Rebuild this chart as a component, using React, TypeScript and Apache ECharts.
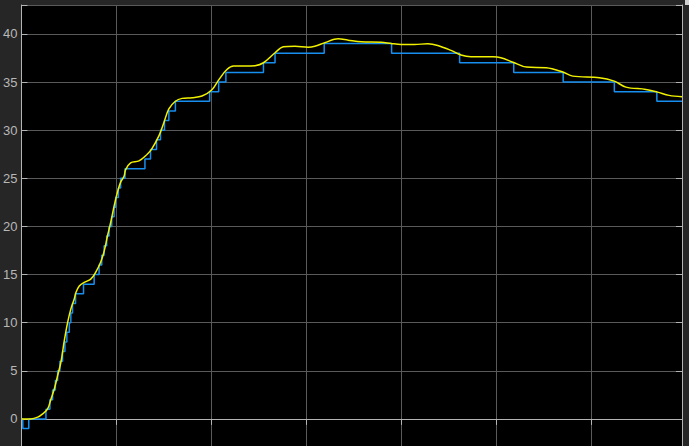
import React, { useEffect, useRef } from "react";
import * as echarts from "echarts";

// Y axis ticks (labels every 5)
const yTickStep = 5;
const yMin = -5;
const yMax = 43;
const xMin = 0;
const xMax = 6.96;
const xTickStep = 1;

// Smooth (yellow) signal: time, value
const yellowT = [
  0, 0.098, 0.171, 0.223, 0.276, 0.311, 0.346, 0.381, 0.416, 0.451, 0.486, 0.52, 0.556, 0.573,
  0.609, 0.661, 0.73, 0.783, 0.835, 0.871, 0.906, 0.94, 0.976, 1.01, 1.045, 1.081, 1.098, 1.15,
  1.238, 1.325, 1.37, 1.448, 1.501, 1.553, 1.622, 1.693, 1.797, 1.902, 2.007, 2.084, 2.165,
  2.235, 2.357, 2.462, 2.55, 2.672, 2.76, 2.881, 3.022, 3.091, 3.196, 3.337, 3.442, 3.581,
  3.791, 3.896, 4.001, 4.141, 4.281, 4.386, 4.526, 4.631, 4.736, 4.911, 4.97, 5.051, 5.179,
  5.32, 5.53, 5.704, 5.809, 6.089, 6.246, 6.369, 6.579, 6.701, 6.824, 6.96,
];
const yellowV = [
  0, 0.0, 0.18, 0.52, 1.04, 2.07, 3.11, 4.49, 5.91, 8.1, 10.0, 11.4, 12.45, 13.1,
  13.8, 14.18, 14.52, 15.25, 16.3, 17.4, 19.0, 20.4, 22.1, 23.5, 24.6, 25.2, 25.9, 26.6,
  26.8, 27.5, 28.0, 29.4, 30.8, 32.2, 33.0, 33.3, 33.37, 33.54, 34.2, 35.3, 36.3,
  36.65, 36.65, 36.7, 37.0, 38.04, 38.66, 38.72, 38.62, 38.72, 39.08, 39.49, 39.35, 39.18,
  39.14, 39.0, 38.9, 38.9, 38.97, 38.8, 38.28, 37.8, 37.62, 37.62, 37.62, 37.52, 37.06,
  36.55, 36.48, 36.03, 35.61, 35.45, 35.09, 34.47, 34.23, 33.95, 33.61, 33.48,
];

// Quantized (blue) signal: step start times and held levels
const blueT = [
  0, 0.014, 0.077, 0.258, 0.3, 0.328, 0.357, 0.381, 0.405, 0.433, 0.458, 0.478, 0.504, 0.52,
  0.538, 0.57, 0.654, 0.766, 0.818, 0.846, 0.871, 0.898, 0.923, 0.951, 0.976, 0.993, 1.021,
  1.045, 1.091, 1.301, 1.36, 1.423, 1.465, 1.507, 1.553, 1.622, 1.983, 2.078, 2.154, 2.55,
  2.672, 3.19, 3.9, 4.617, 5.187, 5.708, 6.247, 6.695, 6.96,
];
const blueV = [
  0, -1, 0, 1, 2, 3, 4, 5, 6, 7, 8, 9, 10, 11,
  12, 13, 14, 15, 16, 17, 18, 19, 20, 21, 22, 23, 24,
  25, 26, 27, 28, 29, 30, 31, 32, 33, 34, 35, 36, 37,
  38, 39, 38, 37, 36, 35, 34, 33, 33,
];

const App: React.FC = () => {
  const ref = useRef<HTMLDivElement>(null);

  useEffect(() => {
    if (!ref.current) return;
    const chart = echarts.init(ref.current, undefined, { renderer: "svg" });
    const axisLineColor = "#b4b4b4";
    const gridColor = "#5a5a5a";
    chart.setOption({
      animation: false,
      backgroundColor: "#262626",
      grid: {
        left: 19,
        top: 5,
        width: 663,
        height: 462,
        show: true,
        backgroundColor: "#000000",
        borderWidth: 0,
      },
      xAxis: [
        {
          type: "value",
          position: "top",
          min: xMin,
          max: xMax,
          interval: xTickStep,
          axisLine: { show: true, lineStyle: { color: axisLineColor, width: 1 } },
          axisTick: { show: true, inside: true, length: 6, lineStyle: { color: axisLineColor } },
          axisLabel: { show: false },
          splitLine: { show: true, lineStyle: { color: gridColor, width: 1 } },
        },
      ],
      yAxis: [
        {
          type: "value",
          position: "left",
          min: yMin,
          max: yMax,
          interval: yTickStep,
          axisLine: { show: true, lineStyle: { color: axisLineColor, width: 1 } },
          axisTick: { show: true, inside: true, length: 6, lineStyle: { color: axisLineColor } },
          axisLabel: {
            show: true,
            color: "#b8b8b8",
            fontSize: 13,
            fontFamily: "Liberation Sans, Arial, sans-serif",
            margin: 4,
            formatter: (v: number) =>
              Number.isInteger(v) && v % yTickStep === 0 && v >= 0 ? String(v) : "",
          },
          splitLine: { show: true, lineStyle: { color: gridColor, width: 1 } },
        },
        {
          type: "value",
          position: "right",
          min: yMin,
          max: yMax,
          interval: yTickStep,
          axisLine: { show: true, lineStyle: { color: axisLineColor, width: 1 } },
          axisTick: { show: true, inside: true, length: 6, lineStyle: { color: axisLineColor } },
          axisLabel: { show: false },
          splitLine: { show: false },
        },
      ],
      series: [
        {
          type: "line",
          name: "quantized",
          yAxisIndex: 0,
          step: "end",
          showSymbol: false,
          data: blueT.map((t, i) => [t, blueV[i]]),
          lineStyle: { color: "#168ff0", width: 1.5 },
          z: 2,
        },
        {
          type: "line",
          name: "signal",
          yAxisIndex: 0,
          smooth: 0.35,
          showSymbol: false,
          data: yellowT.map((t, i) => [t, yellowV[i]]),
          lineStyle: { color: "#f2f200", width: 1.5 },
          z: 3,
        },
      ],
      graphic: [
        {
          type: "rect",
          right: 0,
          top: 0,
          shape: { width: 4, height: 5 },
          style: { fill: "#d0d0d0" },
        },
      ],
    });
    return () => chart.dispose();
  }, []);

  return (
    <div
      style={{
        position: "fixed",
        left: 0,
        top: 0,
        width: 689,
        height: 446,
        overflow: "hidden",
        background: "#262626",
      }}
    >
      <div ref={ref} style={{ width: 689, height: 470 }} />
    </div>
  );
};

export default App;
